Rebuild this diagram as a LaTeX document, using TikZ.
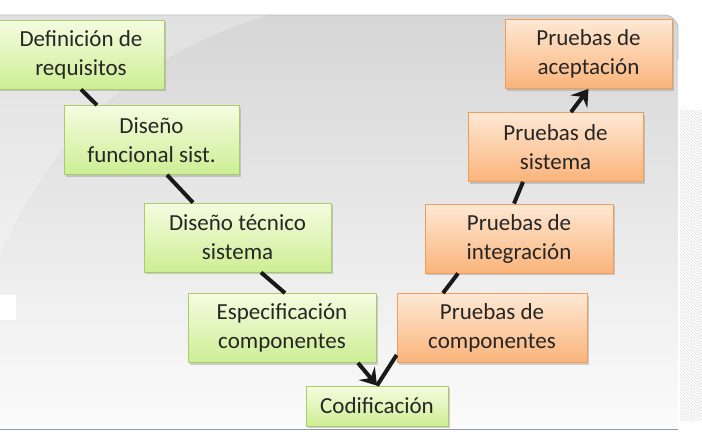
\documentclass[tikz,border=0pt]{standalone}
\usepackage{fontspec}
\setmainfont{Carlito}
\usetikzlibrary{arrows.meta,shadows,patterns}

\definecolor{verdeClaro}{HTML}{F5FCE0}
\definecolor{verdeOscuro}{HTML}{CDEE94}
\definecolor{verdeBorde}{HTML}{A8CC6C}
\definecolor{naranjaClaro}{HTML}{FEE8D4}
\definecolor{naranjaOscuro}{HTML}{FAB47A}
\definecolor{naranjaBorde}{HTML}{EE9D5A}
\definecolor{fondoGris}{HTML}{D6D6D6}
\definecolor{lineaAzul}{HTML}{8D9AA6}

\begin{document}
\begin{tikzpicture}[x=1pt,y=-1pt,
    caja/.style={rectangle,align=center,inner sep=0pt,minimum height=69pt,
      font=\fontsize{23}{29}\selectfont,line width=0.8pt,text=black!85,
      drop shadow={shadow xshift=2pt,shadow yshift=-2pt,opacity=0.35}},
    fase/.style={caja,draw=verdeBorde,top color=verdeClaro,bottom color=verdeOscuro},
    prueba/.style={caja,draw=naranjaBorde,top color=naranjaClaro,bottom color=naranjaOscuro},
    linea/.style={line width=4pt,black!90},
    flecha/.style={-{Stealth[length=16pt,width=21pt,inset=6pt]}}]
        \useasboundingbox (0,0) rectangle (702,447);

        % Background
        \fill[white] (0,0) rectangle (702,447);
        \shade[top color=fondoGris,bottom color=white!97!gray] (0,429) -- (0,15) [rounded corners=14pt] -- (678,15) [sharp corners] -- (678,429) -- cycle;
        \fill[white,opacity=0.25] (0,15) -- (0,255) .. controls (60,120) and (150,50) .. (270,15) -- cycle;
        \draw[gray!55,line width=0.8pt] (0,15) [rounded corners=14pt] -- (678,15) [sharp corners] -- (678,60);
        \draw[lineaAzul,line width=1pt] (0,429) -- (678,429);
        \fill[pattern=north west lines,pattern color=gray!25] (680,110) rectangle (702,420);
        \fill[white] (0,295) rectangle (16,320);

        % Left branch
        \node[fase,minimum width=166pt] (req) at (81,54.5) {Definición de\\requisitos};
        \node[fase,minimum width=175pt] (fun) at (151.5,140) {Diseño\\funcional sist.};
        \node[fase,minimum width=187pt] (tec) at (237.5,237.5) {Diseño técnico\\sistema};
        \node[fase,minimum width=188pt] (spec) at (282,328) {Especificación\\componentes};

        % Bottom
        \node[fase,minimum width=142pt,minimum height=40pt] (cod) at (377,406) {Codificación};

        % Right branch
        \node[prueba,minimum width=190pt] (pcomp) at (492,328) {Pruebas de\\componentes};
        \node[prueba,minimum width=188pt] (pint) at (519,238.5) {Pruebas de\\integración};
        \node[prueba,minimum width=175pt] (psis) at (555.5,147) {Pruebas de\\sistema};
        \node[prueba,minimum width=167pt] (pacep) at (588.5,54) {Pruebas de\\aceptación};

        % Connectors
        \draw[linea] (req.south) -- ([xshift=-54.5pt]fun.north);
        \draw[linea] ([xshift=15.5pt]fun.south) -- ([xshift=-44.5pt]tec.north);
        \draw[linea] ([xshift=23.5pt]tec.south) -- ([xshift=3pt]spec.north);
        \draw[linea,flecha] ([xshift=76pt]spec.south) -- (cod.north);
        \draw[linea] (cod.north) -- ([yshift=-27pt]pcomp.west);
        \draw[linea] ([xshift=-49pt]pcomp.north) -- ([xshift=-61pt]pint.south);
        \draw[linea] ([xshift=-5pt]pint.north) -- ([xshift=-32.5pt]psis.south);
        \draw[linea,flecha] ([xshift=15.5pt]psis.north) -- (pacep.south);
\end{tikzpicture}
\end{document}
